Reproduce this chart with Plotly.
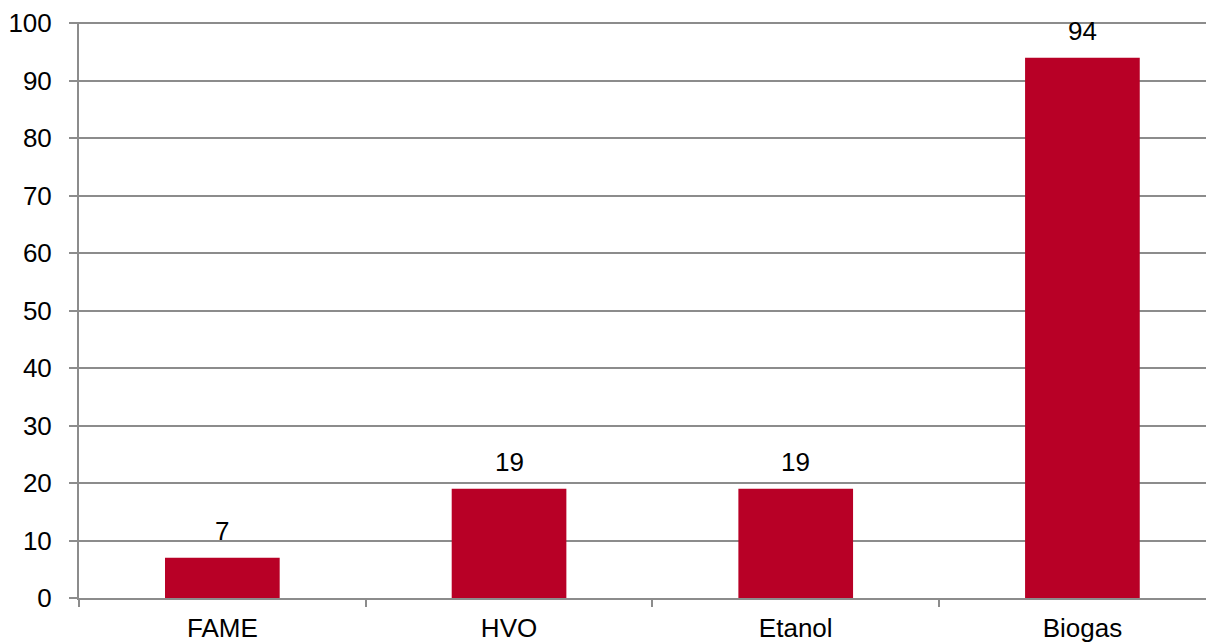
import plotly.graph_objects as go

categories = ["FAME", "HVO", "Etanol", "Biogas"]
values = [7, 19, 19, 94]
y_ticks = [0, 10, 20, 30, 40, 50, 60, 70, 80, 90, 100]

BAR = "#B80026"
GRID = "#8C8C8C"
FONT = dict(family="Liberation Sans, Arial, sans-serif", size=26, color="#000000")

fig = go.Figure()
fig.add_trace(go.Bar(
    x=categories, y=values, marker=dict(color=BAR, line=dict(width=0)),
    width=0.4, showlegend=False, hoverinfo="skip",
))

for c, v in zip(categories, values):
    fig.add_annotation(x=c, y=v, text=str(v), showarrow=False, yanchor="bottom",
                       yshift=10, font=FONT)

fig.update_layout(
    width=1206, height=636,
    margin=dict(l=71, r=0, t=12, b=46),
    paper_bgcolor="white", plot_bgcolor="white",
    font=FONT,
    bargap=0.6,
)
fig.update_xaxes(
    type="category", range=[-0.5, 3.459],
    showline=True, linecolor=GRID, linewidth=2,
    ticks="outside", ticklen=7, tickcolor=GRID, tickwidth=2,
    tickson="boundaries", showgrid=False, tickfont=FONT,
    ticklabelstandoff=6,
)
fig.update_yaxes(
    range=[0, 100.2], tickvals=y_ticks,
    showline=True, linecolor=GRID, linewidth=2,
    ticks="outside", ticklen=8, tickcolor=GRID, tickwidth=2,
    showgrid=True, gridcolor=GRID, gridwidth=2, zeroline=False,
    tickfont=FONT, ticklabelstandoff=12, ticklabeloverflow="allow",
)

fig.write_html("out.html")
